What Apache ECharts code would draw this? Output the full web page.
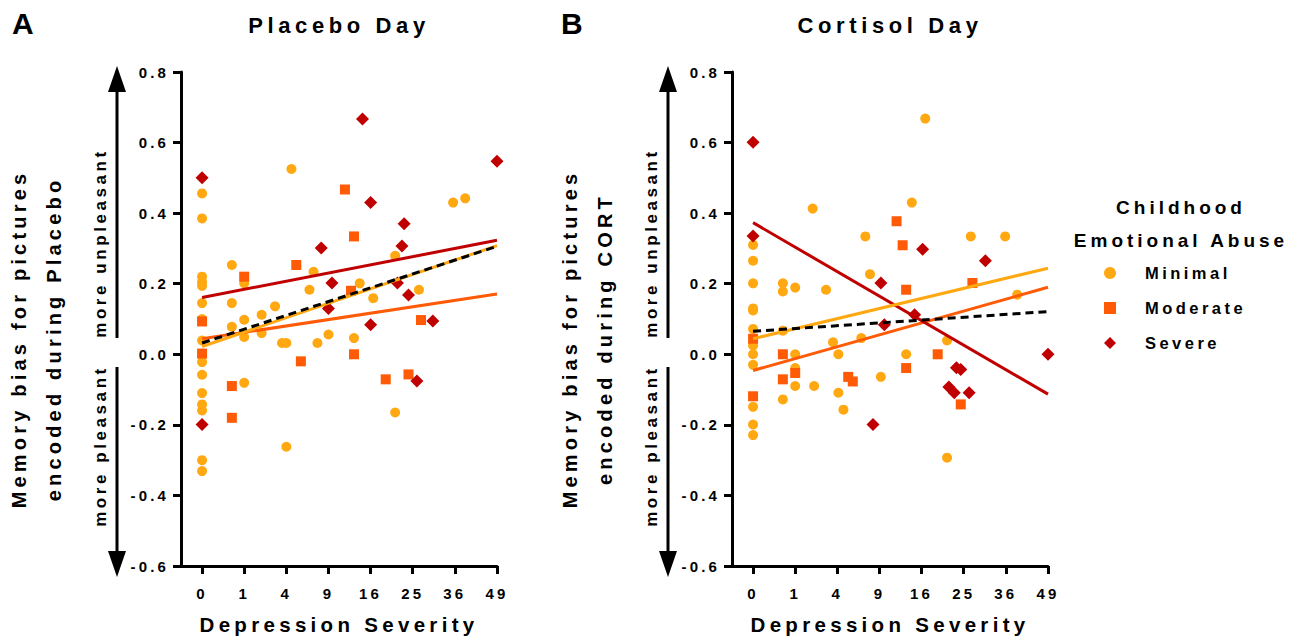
<!DOCTYPE html>
<html>
<head>
<meta charset="utf-8">
<title>Memory bias vs depression severity</title>
<script src="https://cdn.jsdelivr.net/npm/echarts@6/dist/echarts.min.js"></script>
<style>
    html, body { margin: 0; padding: 0; background: #fff; }
    #chart { width: 1300px; height: 640px; }
    /* the original figure uses widely tracked bold lettering */
    #chart svg text { letter-spacing: 0.21em; }
</style>
</head>
<body>
<div id="chart"></div>
<script>

// Data
// ------------------------------

// depression severity (raw score) and memory bias, per abuse group
var placeboMinimal = [
    [0, 0.456], [0, 0.385], [0, 0.220], [0, 0.205], [0, 0.194], [0, 0.145], [0, 0.100], [0, 0.039],
    [0, -0.022], [0, -0.058], [0, -0.110], [0, -0.142], [0, -0.159], [0, -0.300], [0, -0.331],
    [0.5, 0.253], [0.5, 0.145], [0.5, 0.078],
    [1, 0.201], [1, 0.098], [1, 0.049], [1, -0.081],
    [2, 0.112], [2, 0.060], [3, 0.136], [3.6, 0.032], [4, 0.032], [4, -0.262], [4.5, 0.525],
    [6.5, 0.183], [7, 0.234], [7.5, 0.032], [9, 0.056],
    [13, 0.046], [14, 0.201], [16.5, 0.159],
    [21, 0.279], [21, -0.165], [26.5, 0.183], [35.5, 0.430], [39, 0.442]
];
var placeboModerate = [
    [0, 0.093], [0, 0.002], [0.5, -0.090], [0.5, -0.180], [1, 0.220], [5, 0.253], [5.5, -0.020],
    [11.5, 0.467], [12.5, 0.180], [13, 0.334], [13, 0.0], [19, -0.071], [24, -0.057], [27, 0.097]
];
var placeboSevere = [
    [0, 0.500], [0, -0.199], [8, 0.301], [9, 0.130], [9.5, 0.202], [14.5, 0.667], [16, 0.430],
    [16, 0.084], [21.5, 0.202], [22.5, 0.307], [23, 0.370], [24, 0.168], [26, -0.076], [30, 0.094], [49, 0.547]
];

var cortisolMinimal = [
    [0, 0.310], [0, 0.265], [0, 0.201], [0, 0.130], [0, 0.124], [0, 0.072], [0, 0.025], [0, 0.0],
    [0, -0.030], [0, -0.149], [0, -0.199], [0, -0.229],
    [0.5, 0.201], [0.5, 0.178], [0.5, 0.067], [0.5, -0.128],
    [1, 0.189], [1, 0.0], [1, -0.039], [1, -0.090],
    [2, 0.413], [2.1, -0.090], [3, 0.183], [3.6, 0.034], [4.1, 0.0], [4.1, -0.109], [4.6, -0.157],
    [6.6, 0.046], [7.1, 0.334], [7.7, 0.227], [9.2, -0.064],
    [13.2, 0.0], [14.2, 0.430], [16.7, 0.668], [21.2, 0.039], [21.2, -0.293],
    [26.7, 0.334], [35.8, 0.334], [39.3, 0.169]
];
var cortisolModerate = [
    [0, 0.044], [0, -0.119], [0.5, 0.0], [0.5, -0.071], [1, -0.053], [5.1, -0.064], [5.6, -0.077],
    [11.6, 0.377], [12.6, 0.309], [13.2, 0.183], [13.2, -0.039], [19.2, 0.0], [24.3, -0.142], [27.1, 0.202]
];
var cortisolSevere = [
    [0, 0.601], [0, 0.335], [8.1, -0.199], [9.2, 0.202], [9.7, 0.084], [14.7, 0.112], [16.2, 0.298],
    [21.6, -0.093], [22.8, -0.109], [23.3, -0.038], [24.3, -0.043], [26.3, -0.109], [30.4, 0.265], [49, 0.0]
];

// regression lines: fitted bias at the two ends of the severity range
var fitSeverity = [0, 49];
var placeboFitMinimal = [0.022, 0.308];
var placeboFitModerate = [0.044, 0.171];
var placeboFitSevere = [0.161, 0.323];
var placeboFitAll = [0.032, 0.306];
var cortisolFitMinimal = [0.044, 0.244];
var cortisolFitModerate = [-0.046, 0.190];
var cortisolFitSevere = [0.373, -0.113];
var cortisolFitAll = [0.065, 0.121];

// axis ticks
var severityTicks = [0, 1, 4, 9, 16, 25, 36, 49];
var groupNames = ['Minimal', 'Moderate', 'Severe'];


// Setup
// ------------------------------

var FONT = '"Liberation Sans", Arial, sans-serif';
var colors = {
    Minimal: '#ffa812',
    Moderate: '#ff5a05',
    Severe: '#c00000'
};
var symbols = {
    Minimal: ['circle', 10],
    Moderate: ['rect', 10],
    Severe: ['diamond', 13]
};

// x axis is a square-root scale of severity
var toAxis = function(rows) {
    return rows.map(function(r) {
        return [Math.sqrt(r[0]), r[1]];
    });
};
var fitLine = function(ends) {
    return fitSeverity.map(function(s, i) {
        return [Math.sqrt(s), ends[i]];
    });
};

var panelLefts = [181, 732];
var panelWidth = 316;

var makeScatter = function(name, rows, idx) {
    return {
        name: name,
        type: 'scatter',
        xAxisIndex: idx,
        yAxisIndex: idx,
        symbol: symbols[name][0],
        symbolSize: symbols[name][1],
        itemStyle: { color: colors[name], opacity: 1 },
        data: toAxis(rows),
        z: 2
    };
};
var makeFit = function(ends, idx, color, dashed) {
    return {
        name: dashed ? 'All' : 'fit',
        type: 'line',
        xAxisIndex: idx,
        yAxisIndex: idx,
        symbol: 'none',
        silent: true,
        lineStyle: { color: color, width: 3, type: dashed ? [8, 5] : 'solid' },
        data: fitLine(ends),
        z: dashed ? 4 : 3
    };
};

var makeXAxis = function(idx) {
    var customTicks = severityTicks.map(Math.sqrt);
    return {
        type: 'value',
        gridIndex: idx,
        min: -0.5,
        max: 7,
        name: 'Depression Severity',
        nameLocation: 'middle',
        nameGap: 48,
        nameTextStyle: { fontFamily: FONT, fontWeight: 'bold', fontSize: 20.5, color: '#000' },
        axisLine: { onZero: false, lineStyle: { color: '#000', width: 3 } },
        axisTick: { show: true, length: 8, lineStyle: { color: '#000', width: 3 }, customValues: customTicks },
        axisLabel: {
            customValues: customTicks,
            margin: 20,
            fontFamily: FONT, fontWeight: 'bold', fontSize: 15, color: '#000',
            formatter: function(v) { return String(Math.round(v * v)); }
        },
        splitLine: { show: false }
    };
};
var makeYAxis = function(idx, nameText) {
    return {
        type: 'value',
        gridIndex: idx,
        min: -0.6,
        max: 0.8,
        interval: 0.2,
        name: nameText,
        nameLocation: 'middle',
        nameRotate: 90,
        nameGap: 110,
        nameTextStyle: {
            fontFamily: FONT, fontWeight: 'bold', fontSize: 20, lineHeight: 35, color: '#000',
            padding: [0, 40, 0, 0]
        },
        axisLine: { show: true, onZero: false, lineStyle: { color: '#000', width: 3 } },
        axisTick: { show: true, length: 8, lineStyle: { color: '#000', width: 3 } },
        axisLabel: {
            margin: 12,
            fontFamily: FONT, fontWeight: 'bold', fontSize: 15, color: '#000',
            formatter: function(v) { return v.toFixed(1); }
        },
        splitLine: { show: false }
    };
};

// "more unpleasant / more pleasant" arrows beside each y axis
var makeArrows = function(dx) {
    var x = 117 + dx;
    var black = { fill: '#000' };
    return [
        { type: 'line', shape: { x1: x, y1: 88, x2: x, y2: 338 }, style: { stroke: '#000', lineWidth: 3 } },
        { type: 'polygon', shape: { points: [[x, 66], [x - 9, 92], [x + 9, 92]] }, style: black },
        { type: 'line', shape: { x1: x, y1: 367, x2: x, y2: 552 }, style: { stroke: '#000', lineWidth: 3 } },
        { type: 'polygon', shape: { points: [[x, 577], [x - 9, 551], [x + 9, 551]] }, style: black },
        {
            type: 'text', x: x - 17, y: 243, rotation: Math.PI / 2,
            style: { text: 'more unpleasant', font: 'bold 17px ' + FONT, fill: '#000', align: 'center', verticalAlign: 'middle' }
        },
        {
            type: 'text', x: x - 17, y: 446, rotation: Math.PI / 2,
            style: { text: 'more pleasant', font: 'bold 17px ' + FONT, fill: '#000', align: 'center', verticalAlign: 'middle' }
        }
    ];
};

var titleStyle = { fontFamily: FONT, fontWeight: 'bold', fontSize: 22, lineHeight: 24, color: '#000' };
var letterStyle = { fontFamily: FONT, fontWeight: 'bold', fontSize: 30, lineHeight: 30, color: '#000' };

var chartElement = document.getElementById('chart');
var chart = echarts.init(chartElement, null, { renderer: 'svg' });

chart.setOption({
    animation: false,
    textStyle: { fontFamily: FONT },

    title: [
        { text: 'A', left: 12, top: 8, padding: 0, textStyle: letterStyle },
        { text: 'B', left: 561, top: 8, padding: 0, textStyle: letterStyle },
        { text: 'Placebo Day', left: 339, top: 13, padding: 0, textAlign: 'center', textStyle: titleStyle },
        { text: 'Cortisol Day', left: 890, top: 13, padding: 0, textAlign: 'center', textStyle: titleStyle },
        {
            text: 'Childhood\nEmotional Abuse', left: 1181, top: 191, padding: 0, textAlign: 'center',
            textStyle: { fontFamily: FONT, fontWeight: 'bold', fontSize: 19, lineHeight: 33, color: '#000' }
        }
    ],

    legend: {
        data: groupNames,
        orient: 'vertical',
        left: 1104,
        top: 263,
        padding: 0,
        itemWidth: 12,
        itemHeight: 12,
        itemGap: 15,
        textStyle: {
            fontFamily: FONT, fontWeight: 'bold', fontSize: 16.5, lineHeight: 20, color: '#000',
            padding: [0, 0, 0, 24]
        }
    },

    grid: [
        { left: panelLefts[0], top: 72, width: panelWidth, height: 496 },
        { left: panelLefts[1], top: 72, width: panelWidth, height: 496 }
    ],

    xAxis: [makeXAxis(0), makeXAxis(1)],
    yAxis: [
        makeYAxis(0, 'Memory bias for pictures\nencoded during Placebo'),
        makeYAxis(1, 'Memory bias for pictures\nencoded during CORT')
    ],

    graphic: makeArrows(0).concat(makeArrows(panelLefts[1] - panelLefts[0])),

    series: [
        makeScatter('Minimal', placeboMinimal, 0),
        makeScatter('Moderate', placeboModerate, 0),
        makeScatter('Severe', placeboSevere, 0),
        makeFit(placeboFitModerate, 0, colors.Moderate, false),
        makeFit(placeboFitSevere, 0, colors.Severe, false),
        makeFit(placeboFitMinimal, 0, colors.Minimal, false),
        makeFit(placeboFitAll, 0, '#000', true),

        makeScatter('Minimal', cortisolMinimal, 1),
        makeScatter('Moderate', cortisolModerate, 1),
        makeScatter('Severe', cortisolSevere, 1),
        makeFit(cortisolFitModerate, 1, colors.Moderate, false),
        makeFit(cortisolFitSevere, 1, colors.Severe, false),
        makeFit(cortisolFitMinimal, 1, colors.Minimal, false),
        makeFit(cortisolFitAll, 1, '#000', true)
    ]
});

</script>
</body>
</html>
